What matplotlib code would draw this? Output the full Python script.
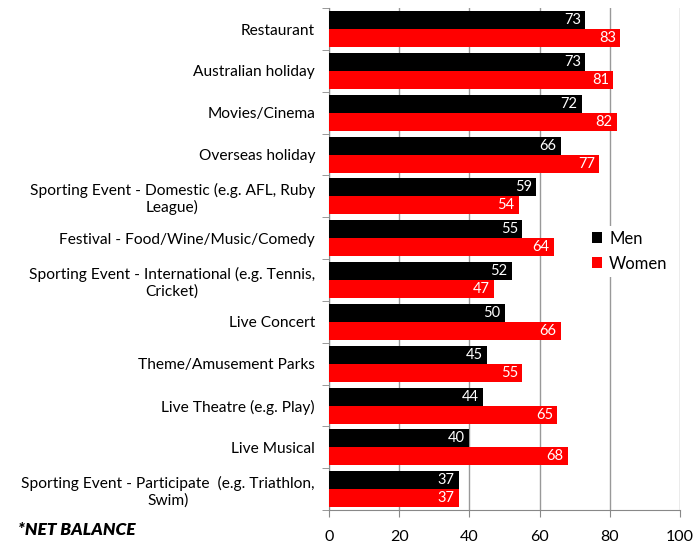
import numpy as np
import matplotlib.pyplot as plt

categorias = [
    "Restaurant",
    "Australian holiday",
    "Movies/Cinema",
    "Overseas holiday",
    "Sporting Event - Domestic (e.g. AFL, Ruby\nLeague)",
    "Festival - Food/Wine/Music/Comedy",
    "Sporting Event - International (e.g. Tennis,\nCricket)",
    "Live Concert",
    "Theme/Amusement Parks",
    "Live Theatre (e.g. Play)",
    "Live Musical",
    "Sporting Event - Participate  (e.g. Triathlon,\nSwim)",
]
homens = [73, 73, 72, 66, 59, 55, 52, 50, 45, 44, 40, 37]
mulheres = [83, 81, 82, 77, 54, 64, 47, 66, 55, 65, 68, 37]
x_ticks = [0, 20, 40, 60, 80, 100]

plt.rcParams['font.family'] = ['Lato', 'DejaVu Sans']

fig = plt.figure(figsize=(6.94, 5.45), dpi=100)
ax = fig.add_axes([0.474, 0.064, 0.506, 0.921])

n = len(categorias)
y = np.arange(n)
h = 0.43

b1 = ax.barh(y - h / 2, homens, height=h, color='black', label='Men', zorder=3)
b2 = ax.barh(y + h / 2, mulheres, height=h, color='#ff0000', label='Women', zorder=3)

# valores em branco dentro da ponta de cada barra
for barras, vals in ((b1, homens), (b2, mulheres)):
    for b, v in zip(barras, vals):
        ax.text(v - 1.2, b.get_y() + b.get_height() / 2, str(v), color='white',
                ha='right', va='center', fontsize=10.5, zorder=4)

ax.set_xlim(0, 100)
ax.set_ylim(n - 0.5, -0.5)
ax.set_xticks(x_ticks)
ax.tick_params(axis='x', labelsize=11.5, length=5, color='#888888', pad=9)
ax.grid(axis='x', color='#999999', linewidth=1, zorder=0)

ax.set_yticks(y)
ax.set_yticklabels(categorias, fontsize=11.2)
for lbl in ax.get_yticklabels():
    lbl.set_multialignment('center')
ax.tick_params(axis='y', length=0, pad=10)
ax.set_yticks(np.arange(-0.5, n, 1), minor=True)
ax.tick_params(axis='y', which='minor', length=5, color='#888888')

for lado in ('top', 'right'):
    ax.spines[lado].set_visible(False)
for lado in ('left', 'bottom'):
    ax.spines[lado].set_color('#888888')

leg = ax.legend(loc='center left', bbox_to_anchor=(0.71, 0.516), fontsize=12,
                handlelength=0.65, handleheight=0.65, handletextpad=0.4,
                frameon=True, edgecolor='none', facecolor='white', framealpha=1,
                borderpad=0.3, labelspacing=0.55)

fig.text(0.026, 0.012, "*NET BALANCE", fontsize=12.5, fontweight='heavy',
         fontstyle='italic', ha='left', va='bottom')

fig.savefig("out.png", dpi=100)
